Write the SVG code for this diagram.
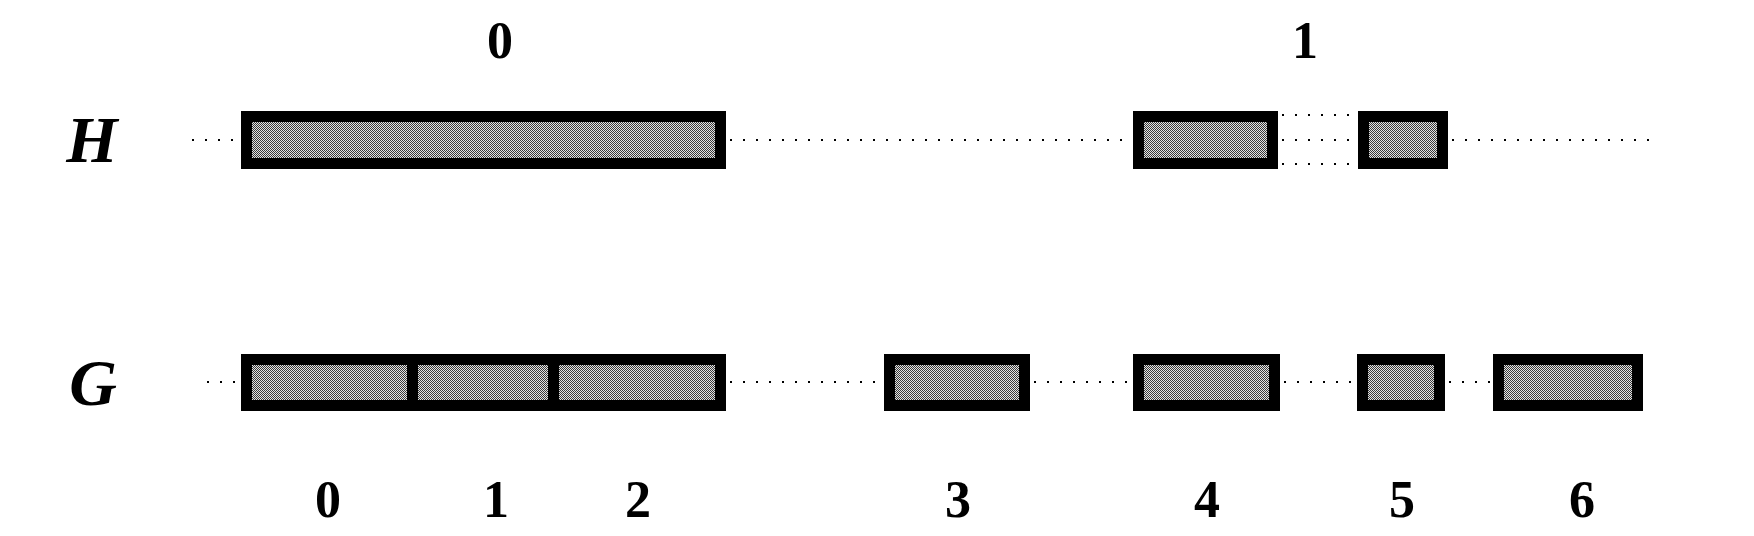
<svg xmlns="http://www.w3.org/2000/svg" width="1754" height="536" viewBox="0 0 1754 536">
  <style>
    .blk { fill: url(#dither); stroke: #000; stroke-width: 11; stroke-linejoin: miter; }
    .dot { fill: none; stroke: #000; stroke-width: 2.2; stroke-dasharray: 2 11; }
    .lbl { font-family: "Liberation Serif", serif; font-weight: bold; font-size: 52px; text-anchor: middle; fill: #000; }
    .row { font-family: "Liberation Serif", serif; font-weight: bold; font-style: italic; font-size: 66px; text-anchor: middle; fill: #000; }
  </style>
  <defs>
    <pattern id="dither" width="2" height="2" patternUnits="userSpaceOnUse">
      <rect width="2" height="2" fill="#e4e4e4"/>
      <rect width="1" height="1" fill="#3a3a3a"/>
      <rect x="1" y="1" width="1" height="1" fill="#3a3a3a"/>
    </pattern>
  </defs>
  <rect width="1754" height="536" fill="#ffffff"/>

  <g id="connectors">
    <line class="dot" x1="192" y1="140" x2="241" y2="140"/>
    <line class="dot" x1="730" y1="140" x2="1133" y2="140"/>
    <line class="dot" x1="1282" y1="115" x2="1358" y2="115"/>
    <line class="dot" x1="1282" y1="140" x2="1358" y2="140"/>
    <line class="dot" x1="1282" y1="164" x2="1358" y2="164"/>
    <line class="dot" x1="1452" y1="140" x2="1656" y2="140"/>
    <line class="dot" x1="207" y1="382" x2="241" y2="382"/>
    <line class="dot" x1="730" y1="382" x2="884" y2="382"/>
    <line class="dot" x1="1034" y1="382" x2="1133" y2="382"/>
    <line class="dot" x1="1284" y1="382" x2="1357" y2="382"/>
    <line class="dot" x1="1449" y1="382" x2="1493" y2="382"/>
  </g>

  <g id="row-labels">
    <text class="row" x="92" y="162">H</text>
    <text class="row" x="93" y="405">G</text>
  </g>

  <g id="H0">
    <rect class="blk" x="246.5" y="116.5" width="474" height="47"/>
    <text class="lbl" x="500" y="58">0</text>
  </g>
  <g id="H1">
    <rect class="blk" x="1138.5" y="116.5" width="134" height="47"/>
    <rect class="blk" x="1363.5" y="116.5" width="79" height="47"/>
    <text class="lbl" x="1305" y="58">1</text>
  </g>

  <g id="G0">
    <rect class="blk" x="246.5" y="359.5" width="166" height="46"/>
    <text class="lbl" x="328" y="517">0</text>
  </g>
  <g id="G1">
    <rect class="blk" x="412.5" y="359.5" width="141" height="46"/>
    <text class="lbl" x="496" y="517">1</text>
  </g>
  <g id="G2">
    <rect class="blk" x="553.5" y="359.5" width="167" height="46"/>
    <text class="lbl" x="638" y="517">2</text>
  </g>
  <g id="G3">
    <rect class="blk" x="889.5" y="359.5" width="135" height="46"/>
    <text class="lbl" x="958" y="517">3</text>
  </g>
  <g id="G4">
    <rect class="blk" x="1138.5" y="359.5" width="136" height="46"/>
    <text class="lbl" x="1207" y="517">4</text>
  </g>
  <g id="G5">
    <rect class="blk" x="1362.5" y="359.5" width="77" height="46"/>
    <text class="lbl" x="1402" y="517">5</text>
  </g>
  <g id="G6">
    <rect class="blk" x="1498.5" y="359.5" width="139" height="46"/>
    <text class="lbl" x="1582" y="517">6</text>
  </g>
</svg>
